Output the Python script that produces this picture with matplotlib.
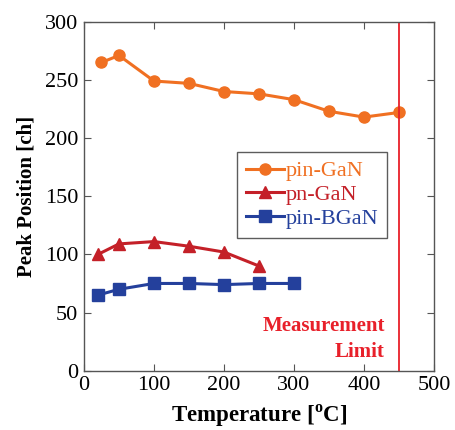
import matplotlib
matplotlib.use("Agg")
import matplotlib.pyplot as plt

plt.rcParams['font.family'] = ['Liberation Serif', 'DejaVu Serif']
plt.rcParams['mathtext.fontset'] = 'custom'
plt.rcParams['mathtext.rm'] = 'Liberation Serif'
plt.rcParams['mathtext.bf'] = 'Liberation Serif:bold'

pin_gan_x = [25, 50, 100, 150, 200, 250, 300, 350, 400, 450]
pin_gan_y = [265, 271, 249, 247, 240, 238, 233, 223, 218, 222]
pn_gan_x = [20, 50, 100, 150, 200, 250]
pn_gan_y = [100, 109, 111, 107, 102, 90]
pin_bgan_x = [20, 50, 100, 150, 200, 250, 300]
pin_bgan_y = [65, 70, 75, 75, 74, 75, 75]
limit_x = 450

c_orange = '#F07022'
c_red = '#C42028'
c_blue = '#24409C'
c_limit = '#E8202A'

fig = plt.figure(figsize=(4.55, 4.30), dpi=100)
ax = fig.add_axes([0.1846, 0.1379, 0.7692, 0.8116])

ax.plot(pin_gan_x, pin_gan_y, '-o', color=c_orange, lw=2.2, ms=8, label='pin-GaN')
ax.plot(pn_gan_x, pn_gan_y, '-^', color=c_red, lw=2.2, ms=9, label='pn-GaN')
ax.plot(pin_bgan_x, pin_bgan_y, '-s', color=c_blue, lw=2.2, ms=8, label='pin-BGaN')
ax.axvline(limit_x, color=c_limit, lw=1.3)

ax.text(430, 38, 'Measurement', color=c_limit, fontsize=15, fontweight='bold',
        ha='right', va='center')
ax.text(430, 16, 'Limit', color=c_limit, fontsize=15, fontweight='bold',
        ha='right', va='center')

ax.set_xlim(0, 500)
ax.set_ylim(0, 300)
ax.set_xticks([0, 100, 200, 300, 400, 500])
ax.set_yticks([0, 50, 100, 150, 200, 250, 300])
ax.tick_params(direction='in', top=True, right=True, labelsize=16, length=5,
               color='#555555', pad=4)
for s in ax.spines.values():
    s.set_color('#555555')
    s.set_linewidth(1.0)

ax.set_xlabel(r'Temperature [$^{\mathbf{o}}$C]', fontsize=16.5, fontweight='bold', labelpad=5)
ax.set_ylabel('Peak Position [ch]', fontsize=15, fontweight='bold', labelpad=6)

leg = ax.legend(loc='upper left', bbox_to_anchor=(0.437, 0.627), fontsize=16,
                frameon=True, fancybox=False, edgecolor='#333333', handlelength=1.7,
                handletextpad=0.1, borderpad=0.4, labelspacing=0.15, borderaxespad=0)
leg.get_frame().set_linewidth(1.0)
for t, c in zip(leg.get_texts(), [c_orange, c_red, c_blue]):
    t.set_color(c)

fig.savefig('out.png', dpi=100)
